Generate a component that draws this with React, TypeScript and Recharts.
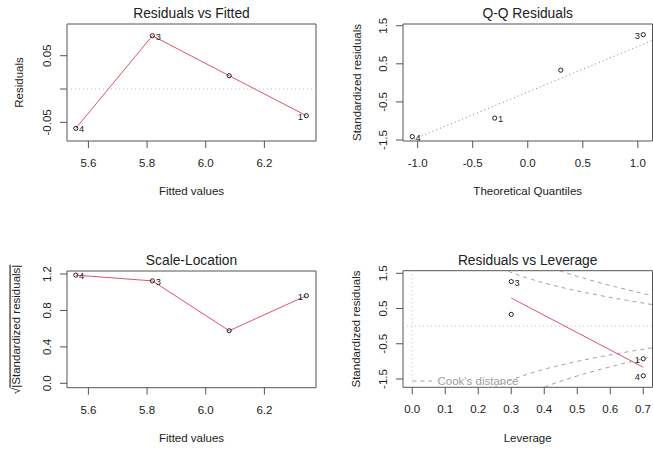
import React from "react";
import {
  ComposedChart,
  Scatter,
  Line,
  XAxis,
  YAxis,
  ReferenceLine,
  ReferenceArea,
} from "recharts";

const obsIds = ["1", "2", "3", "4"];
const fittedValues = [6.343, 6.08, 5.818, 5.557];
const residuals = [-0.04, 0.02, 0.08, -0.059];
const stdResiduals = [-0.925, 0.333, 1.265, -1.41];
const theoreticalQuantiles = [-0.3, 0.3, 1.049, -1.049];
const leverageValues = [0.7, 0.3, 0.3, 0.7];
const labelledIds = ["1", "3", "4"];
const cookLevels = [0.5, 1];
const nCoef = 2;

// axis ticks and their labels
const fittedTicks = [5.6, 5.8, 6.0, 6.2];
const fittedTickLabels = ["5.6", "5.8", "6.0", "6.2"];
const residTicks = [-0.05, 0, 0.05];
const residTickLabels = ["-0.05", "", "0.05"];
const qqTicks = [-1, -0.5, 0, 0.5, 1];
const qqTickLabels = ["-1.0", "-0.5", "0.0", "0.5", "1.0"];
const stdTicks = [-1.5, -1, -0.5, 0, 0.5, 1, 1.5];
const stdTickLabels = ["-1.5", "", "-0.5", "", "0.5", "", "1.5"];
const sqrtTicks = [0, 0.2, 0.4, 0.6, 0.8, 1.0, 1.2];
const sqrtTickLabels = ["0.0", "", "0.4", "", "0.8", "", "1.2"];
const levTicks = [0, 0.1, 0.2, 0.3, 0.4, 0.5, 0.6, 0.7];
const levTickLabels = ["0.0", "0.1", "0.2", "0.3", "0.4", "0.5", "0.6", "0.7"];

// plot ranges (R's usr)
const fittedDomain: [number, number] = [5.527, 6.376];
const residDomain: [number, number] = [-0.078, 0.0976];
const qqDomain: [number, number] = [-1.133, 1.133];
const qqYDomain: [number, number] = [-1.526, 1.545];
const sqrtDomain: [number, number] = [-0.048, 1.233];
const levDomain: [number, number] = [-0.028, 0.728];
const levYDomain: [number, number] = [-1.736, 1.574];

const FONT = "'Liberation Sans', Arial, Helvetica, sans-serif";
const INK = "#222";
const BOX = "#555";
const RED = "#DF536B";
const GREY = "#9E9E9E";

type Pt = { x: number; y: number; id: string; show: boolean; left: boolean };

function makePoints(xs: number[], ys: number[]): Pt[] {
  const mid = (Math.min(...xs) + Math.max(...xs)) / 2;
  return obsIds.map((id, i) => ({
    x: xs[i],
    y: ys[i],
    id,
    show: labelledIds.includes(id),
    left: xs[i] > mid,
  }));
}

const sqrtStd = stdResiduals.map((r) => Math.sqrt(Math.abs(r)));

const rvfPoints = makePoints(fittedValues, residuals);
const qqPoints = makePoints(theoreticalQuantiles, stdResiduals);
const slPoints = makePoints(fittedValues, sqrtStd);
const levPoints = makePoints(leverageValues, stdResiduals);

const byX = (pts: Pt[]) => [...pts].sort((a, b) => a.x - b.x);

// qqline through the quartiles
function q7(sorted: number[], p: number) {
  const h = (sorted.length - 1) * p;
  const lo = Math.floor(h);
  const hi = Math.min(lo + 1, sorted.length - 1);
  return sorted[lo] + (h - lo) * (sorted[hi] - sorted[lo]);
}
const sortedStd = [...stdResiduals].sort((a, b) => a - b);
const zq = 0.6744898;
const qqSlope = (q7(sortedStd, 0.75) - q7(sortedStd, 0.25)) / (2 * zq);
const qqInt = q7(sortedStd, 0.25) + zq * qqSlope;

// smoother for leverage plot: mean at each leverage value
const levSmooth = Array.from(new Set(leverageValues))
  .sort((a, b) => a - b)
  .map((h) => {
    const ys = stdResiduals.filter((_, i) => leverageValues[i] === h);
    return { x: h, y: ys.reduce((s, v) => s + v, 0) / ys.length };
  });

// Cook's distance contours
const hh = Array.from({ length: 101 }, (_, i) => 0.007 + (i * (levDomain[1] - 0.007)) / 100);
const cookCurves = cookLevels.flatMap((c) =>
  [1, -1].map((sign) => ({
    key: `${c}_${sign}`,
    data: hh.map((h) => ({ x: h, y: sign * Math.sqrt((c * nCoef * (1 - h)) / h) })),
  }))
);

const PointMark = (props: any) => {
  const { cx, cy, payload } = props;
  if (cx == null || cy == null) return null;
  return (
    <g>
      <circle cx={cx} cy={cy} r={2.1} fill="none" stroke={INK} strokeWidth={1} />
      {payload.show && (
        <text
          x={payload.left ? cx - 3.3 : cx + 3.3}
          y={cy + 4}
          fontSize={9.3}
          fontFamily={FONT}
          fill={INK}
          textAnchor={payload.left ? "end" : "start"}
        >
          {payload.id}
        </text>
      )}
    </g>
  );
};

const pick = (ticks: number[], labels: string[], v: number) => {
  const i = ticks.findIndex((t) => Math.abs(t - v) < 1e-9);
  return i < 0 ? "" : labels[i];
};

const xTick = (ticks: number[], labels: string[]) => (props: any) => (
  <text x={props.x} y={props.y + 19} textAnchor="middle" fontSize={11.5} fontFamily={FONT} fill={INK}>
    {pick(ticks, labels, props.payload.value)}
  </text>
);

const yTick = (ticks: number[], labels: string[]) => (props: any) => {
  const bx = props.x - 9.3;
  return (
    <text
      x={bx}
      y={props.y}
      transform={`rotate(-90 ${bx} ${props.y})`}
      textAnchor="middle"
      fontSize={11.5}
      fontFamily={FONT}
      fill={INK}
    >
      {pick(ticks, labels, props.payload.value)}
    </text>
  );
};

function Box({ xd, yd }: { xd: [number, number]; yd: [number, number] }) {
  return (
    <ReferenceArea
      x1={xd[0]}
      x2={xd[1]}
      y1={yd[0]}
      y2={yd[1]}
      fill="none"
      stroke={BOX}
      strokeWidth={1}
      fillOpacity={0}
      ifOverflow="visible"
    />
  );
}

const axisCommon = {
  type: "number" as const,
  allowDataOverflow: true,
  tickSize: 7,
  tickMargin: 0,
  axisLine: false,
  tickLine: { stroke: BOX },
};

function Title({ x, y, text }: { x: number; y: number; text: string }) {
  return (
    <text x={x} y={y} textAnchor="middle" fontSize={13.8} fontFamily={FONT} fill={INK}>
      {text}
    </text>
  );
}

function YTitle({ x, y, children }: { x: number; y: number; children: React.ReactNode }) {
  return (
    <text
      x={x}
      y={y}
      transform={`rotate(-90 ${x} ${y})`}
      textAnchor="middle"
      fontSize={11.5}
      fontFamily={FONT}
      fill={INK}
    >
      {children}
    </text>
  );
}

export default function App() {
  return (
    <div
      style={{
        position: "absolute",
        left: 0,
        top: 0,
        width: 653,
        height: 449,
        overflow: "hidden",
        background: "#fff",
      }}
    >
      {/* Residuals vs Fitted */}
      <div style={{ position: "absolute", left: 0, top: 0 }}>
        <ComposedChart width={330} height={225} margin={{ top: 24, right: 14, bottom: 0, left: 0 }}>
          <XAxis {...axisCommon} dataKey="x" domain={fittedDomain} ticks={fittedTicks} height={84} tick={xTick(fittedTicks, fittedTickLabels)} />
          <YAxis {...axisCommon} dataKey="y" domain={residDomain} ticks={residTicks} width={67} tick={yTick(residTicks, residTickLabels)} />
          <ReferenceLine y={0} stroke="#BEBEBE" strokeDasharray="1 3" />
          <Line data={byX(rvfPoints)} dataKey="y" type="linear" stroke={RED} strokeWidth={1} dot={false} isAnimationActive={false} />
          <Scatter data={rvfPoints} dataKey="y" shape={PointMark} isAnimationActive={false} />
          {Box({ xd: fittedDomain, yd: residDomain })}
        </ComposedChart>
      </div>

      {/* Q-Q Residuals */}
      <div style={{ position: "absolute", left: 330, top: 0 }}>
        <ComposedChart width={323} height={225} margin={{ top: 24, right: 0.5, bottom: 0, left: 0 }}>
          <XAxis {...axisCommon} dataKey="x" domain={qqDomain} ticks={qqTicks} height={84} tick={xTick(qqTicks, qqTickLabels)} />
          <YAxis {...axisCommon} dataKey="y" domain={qqYDomain} ticks={stdTicks} width={73} tick={yTick(stdTicks, stdTickLabels)} />
          <ReferenceLine
            segment={[
              { x: qqDomain[0], y: qqInt + qqSlope * qqDomain[0] },
              { x: qqDomain[1], y: qqInt + qqSlope * qqDomain[1] },
            ]}
            stroke="#7F7F7F"
            strokeDasharray="1 3"
            ifOverflow="hidden"
          />
          <Scatter data={qqPoints} dataKey="y" shape={PointMark} isAnimationActive={false} />
          {Box({ xd: qqDomain, yd: qqYDomain })}
        </ComposedChart>
      </div>

      {/* Scale-Location */}
      <div style={{ position: "absolute", left: 0, top: 225 }}>
        <ComposedChart width={330} height={224} margin={{ top: 46, right: 14, bottom: 0, left: 0 }}>
          <XAxis {...axisCommon} dataKey="x" domain={fittedDomain} ticks={fittedTicks} height={61.3} tick={xTick(fittedTicks, fittedTickLabels)} />
          <YAxis {...axisCommon} dataKey="y" domain={sqrtDomain} ticks={sqrtTicks} width={67} tick={yTick(sqrtTicks, sqrtTickLabels)} />
          <Line data={byX(slPoints)} dataKey="y" type="linear" stroke={RED} strokeWidth={1} dot={false} isAnimationActive={false} />
          <Scatter data={slPoints} dataKey="y" shape={PointMark} isAnimationActive={false} />
          {Box({ xd: fittedDomain, yd: sqrtDomain })}
        </ComposedChart>
      </div>

      {/* Residuals vs Leverage */}
      <div style={{ position: "absolute", left: 330, top: 225 }}>
        <ComposedChart width={323} height={224} margin={{ top: 45.7, right: 0.5, bottom: 0, left: 0 }}>
          <XAxis {...axisCommon} dataKey="x" domain={levDomain} ticks={levTicks} height={61.7} tick={xTick(levTicks, levTickLabels)} />
          <YAxis {...axisCommon} dataKey="y" domain={levYDomain} ticks={stdTicks} width={73} tick={yTick(stdTicks, stdTickLabels)} />
          <ReferenceLine y={0} stroke="#BEBEBE" strokeDasharray="1 3" />
          <ReferenceLine x={0} stroke="#BEBEBE" strokeDasharray="1 3" />
          {cookCurves.map((c) => (
            <Line
              key={c.key}
              data={c.data}
              dataKey="y"
              type="linear"
              stroke={GREY}
              strokeWidth={1}
              strokeDasharray="4 4"
              dot={false}
              isAnimationActive={false}
            />
          ))}
          <Line data={levSmooth} dataKey="y" type="linear" stroke={RED} strokeWidth={1} dot={false} isAnimationActive={false} />
          <Scatter data={levPoints} dataKey="y" shape={PointMark} isAnimationActive={false} />
          {Box({ xd: levDomain, yd: levYDomain })}
        </ComposedChart>
      </div>

      {/* titles, axis titles, legend */}
      <svg width={653} height={449} style={{ position: "absolute", left: 0, top: 0, pointerEvents: "none" }}>
        <Title x={191.5} y={17.5} text="Residuals vs Fitted" />
        <Title x={527.7} y={17.5} text="Q-Q Residuals" />
        <Title x={191.5} y={265} text="Scale-Location" />
        <Title x={527.7} y={264.7} text="Residuals vs Leverage" />

        <text x={191.5} y={195} textAnchor="middle" fontSize={11.5} fontFamily={FONT} fill={INK}>Fitted values</text>
        <text x={527.7} y={195} textAnchor="middle" fontSize={11.5} fontFamily={FONT} fill={INK}>Theoretical Quantiles</text>
        <text x={191.5} y={442} textAnchor="middle" fontSize={11.5} fontFamily={FONT} fill={INK}>Fitted values</text>
        <text x={527.7} y={441.5} textAnchor="middle" fontSize={11.5} fontFamily={FONT} fill={INK}>Leverage</text>

        <YTitle x={23.3} y={82.5}>Residuals</YTitle>
        <YTitle x={361} y={82.5}>Standardized residuals</YTitle>
        <YTitle x={20.5} y={329.3}>
          <tspan>√</tspan>
          <tspan style={{ textDecoration: "overline" }}>|Standardized residuals|</tspan>
        </YTitle>
        <YTitle x={360} y={329}>Standardized residuals</YTitle>

        <line x1={412.5} y1={381} x2={432} y2={381} stroke={GREY} strokeDasharray="4 4" />
        <text x={437.5} y={385} fontSize={11.5} fontFamily={FONT} fill={GREY}>Cook's distance</text>
      </svg>
    </div>
  );
}
